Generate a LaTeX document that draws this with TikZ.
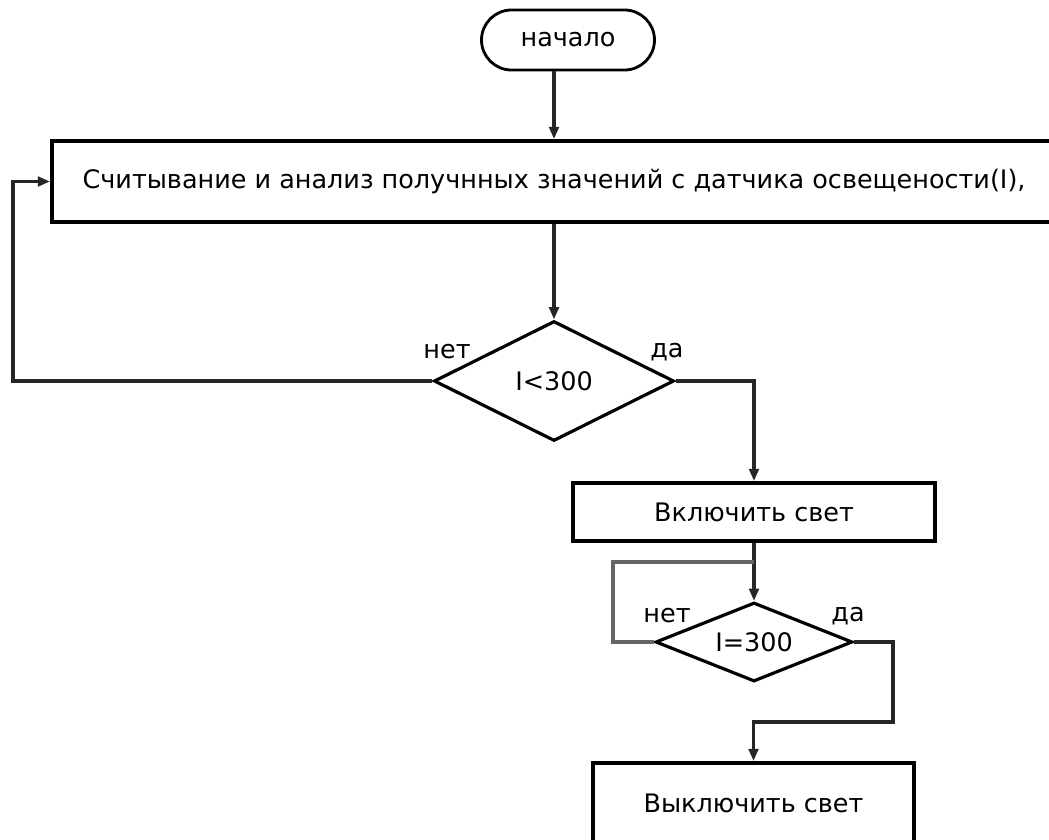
\documentclass[tikz,border=0pt]{standalone}
\usepackage{fontspec}
\setmainfont{DejaVu Sans}
\usepackage{tikz}
\usetikzlibrary{shapes,arrows,arrows.meta,positioning}

\begin{document}
\begin{tikzpicture}[auto, font=\fontsize{14.5}{17}\selectfont]
\tikzstyle{term} = [rectangle, draw, line width=1.6pt, rounded corners=0.6cm, minimum width=3.46cm, minimum height=1.2cm]
\tikzstyle{block} = [rectangle, draw, line width=2.2pt, text centered, inner sep=0pt]
\tikzstyle{decision} = [diamond, draw, line width=1.8pt, inner sep=0pt, aspect=2.5]
\tikzstyle{lbl} = [inner sep=1pt]
\tikzstyle{line} = [line width=1.8pt, draw=black!85]
\tikzstyle{arrow} = [line, ->, >={Triangle[length=7pt,width=5.5pt]}]

\path [use as bounding box, clip] (0,0) rectangle (20.98,-16.8);

\node [term] (start) at (11.36,-0.8) {начало};
\node [block, minimum width=20.08cm, minimum height=1.62cm] (read) at (11.08,-3.63) {Считывание и анализ получнных значений с датчика освещености(I),};
\node [decision, minimum width=4.8cm, minimum height=2.4cm] (cond1) at (11.08,-7.62) {I<300};
\node [block, minimum width=7.24cm, minimum height=1.16cm] (on) at (15.08,-10.24) {Включить свет};
\node [decision, minimum width=3.94cm, minimum height=1.58cm] (cond2) at (15.08,-12.84) {I=300};
\node [block, minimum width=6.42cm, minimum height=1.6cm] (off) at (15.07,-16.06) {Выключить свет};

\node [lbl] (no1) at (8.94,-7.04) {нет};
\node [lbl] (yes1) at (13.34,-7.04) {да};
\node [lbl] (no2) at (13.34,-12.32) {нет};
\node [lbl] (yes2) at (16.96,-12.32) {да};

\coordinate (back1) at (0.26,-7.62);
\coordinate (back2) at (12.26,-11.24);
\coordinate (turn) at (17.86,-14.44);

\draw [arrow] (start.south -| read.north) -- (read.north);
\draw [arrow] (read.south) -- (cond1.north);
\draw [arrow] (cond1.west) -- (back1) |- (read.west);
\draw [arrow] (cond1.east) -| (on.north);
\draw [arrow] (on.south) -- (cond2.north);
\draw [line, draw=black!60] (cond2.west) -| (back2) -- (back2 -| cond2.north);
\draw [arrow] (cond2.east) -| (turn) -| (off.north);
\end{tikzpicture}
\end{document}
